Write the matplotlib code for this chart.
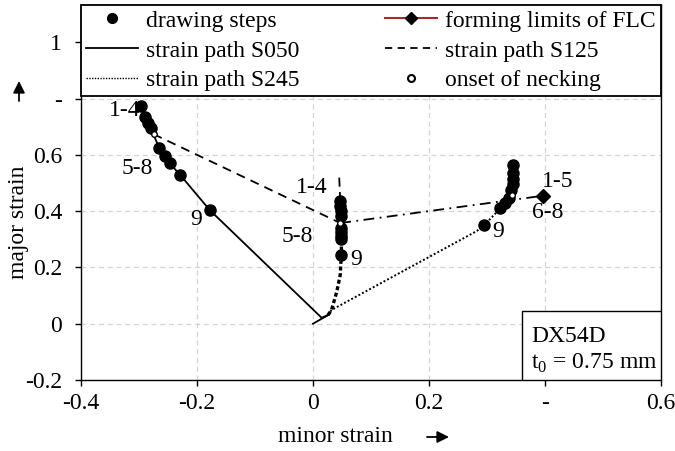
import numpy as np
import matplotlib
matplotlib.use('Agg')
import matplotlib.pyplot as plt
from matplotlib.lines import Line2D
from matplotlib.patches import Rectangle

plt.rcParams['font.family'] = ['Liberation Serif', 'DejaVu Sans']
plt.rcParams['mathtext.fontset'] = 'custom'
plt.rcParams['mathtext.rm'] = 'Liberation Serif'

##### data #####
# strain path S050 (solid)
s050_minor = [0.0, 0.026, 0.015, -0.178, -0.229, -0.247, -0.256, -0.265, -0.280, -0.285, -0.290, -0.297]
s050_major = [0.0, 0.031, 0.021, 0.404, 0.529, 0.570, 0.597, 0.625, 0.695, 0.712, 0.735, 0.775]
# strain path S125 (dashed), lower part and upper part
s125_minor = [0.026, 0.032, 0.041, 0.047, 0.048, 0.049, 0.049, 0.048, 0.047]
s125_major = [0.031, 0.049, 0.114, 0.174, 0.215, 0.245, 0.300, 0.360, 0.436]
s125_top_minor = [0.047, 0.045]
s125_top_major = [0.436, 0.531]
# strain path S245 (dotted)
s245_minor = [0.026, 0.032, 0.282, 0.295, 0.323, 0.331, 0.338, 0.342, 0.344, 0.345, 0.345, 0.344]
s245_major = [0.031, 0.049, 0.329, 0.350, 0.410, 0.428, 0.448, 0.475, 0.496, 0.516, 0.537, 0.564]

# drawing steps 1-9 for each path
steps_s050_minor = [-0.297, -0.290, -0.285, -0.280, -0.265, -0.256, -0.247, -0.229, -0.178]
steps_s050_major = [0.775, 0.735, 0.712, 0.695, 0.625, 0.597, 0.570, 0.529, 0.404]
steps_s125_minor = [0.047, 0.047, 0.048, 0.048, 0.048, 0.049, 0.049, 0.049, 0.049]
steps_s125_major = [0.436, 0.418, 0.400, 0.382, 0.340, 0.326, 0.312, 0.300, 0.245]
steps_s245_minor = [0.344, 0.345, 0.345, 0.344, 0.342, 0.338, 0.331, 0.323, 0.295]
steps_s245_major = [0.564, 0.537, 0.516, 0.496, 0.475, 0.448, 0.428, 0.410, 0.350]

# onset of necking
onset_minor = [-0.275, 0.047, 0.343]
onset_major = [0.674, 0.358, 0.459]

# forming limit curve
flc_minor = [-0.275, 0.047, 0.397]
flc_major = [0.674, 0.358, 0.455]

# step labels
step_labels = ['1-4', '5-8', '9', '1-4', '5-8', '9', '9', '1-5', '6-8']
step_label_x = [-0.324, -0.303, -0.202, -0.003, -0.028, 0.074, 0.319, 0.421, 0.405]
step_label_y = [0.757, 0.552, 0.371, 0.483, 0.311, 0.228, 0.329, 0.507, 0.396]

xticks = [-0.4, -0.2, 0, 0.2, 0.4, 0.6]
xticklabels = ['-0.4', '-0.2', '0', '0.2', '-', '0.6']
yticks = [-0.2, 0, 0.2, 0.4, 0.6, 0.8, 1.0]
yticklabels = ['-0.2', '0', '0.2', '0.4', '0.6', '-', '1']

##### plot #####
fs = 17
W, H = 675, 451
fig = plt.figure(figsize=(6.75, 4.51), dpi=100)
ax = fig.add_axes([81 / W, 1 - 380 / H, 580 / W, 375 / H])

ax.set_xlim(-0.4, 0.6)
ax.set_ylim(-0.2, 1.133)
ax.set_xticks(xticks)
ax.set_xticklabels(xticklabels)
ax.set_yticks(yticks)
ax.set_yticklabels(yticklabels)
ax.tick_params(axis='both', direction='out', length=4.5, width=1, labelsize=fs)
ax.tick_params(axis='x', pad=5)
ax.tick_params(axis='y', pad=9)
ax.grid(True, color='#d4d4d4', linestyle=(0, (4, 3)), linewidth=0.9)
ax.set_axisbelow(True)
for sp in ax.spines.values():
    sp.set_linewidth(1.0)

# strain paths
ax.plot(s050_minor, s050_major, color='black', lw=1.3, zorder=3)
ax.plot(s125_minor, s125_major, color='black', lw=2.4, ls=(0, (1.2, 0.8)), zorder=3)
ax.plot(s125_top_minor, s125_top_major, color='black', lw=1.3, ls=(0, (5, 3)), zorder=3)
ax.plot(s245_minor, s245_major, color='black', lw=1.4, ls=(0, (1, 1.1)), zorder=3)

# FLC (drawn in the chart as dashed / dash-dot segments)
ax.plot(flc_minor[:2], flc_major[:2], color='black', lw=1.3, ls=(0, (5, 3.5)), zorder=3)
ax.plot(flc_minor[1:], flc_major[1:], color='black', lw=1.3, ls=(0, (6, 3, 1, 3)), zorder=3)
ax.plot(flc_minor[-1:], flc_major[-1:], ls='none', marker='D', ms=7, color='black', zorder=4)

# drawing steps
for mx, my in [(steps_s050_minor, steps_s050_major),
               (steps_s125_minor, steps_s125_major),
               (steps_s245_minor, steps_s245_major)]:
    ax.plot(mx, my, ls='none', marker='o', ms=8, color='black', zorder=5)

# onset of necking
ax.plot(onset_minor, onset_major, ls='none', marker='o', ms=4, mfc='white',
        mec='black', mew=1.0, zorder=6)

for lab, tx, ty in zip(step_labels, step_label_x, step_label_y):
    ax.text(tx, ty, lab, fontsize=fs, ha='center', va='center', zorder=7)

# material box
ax.add_patch(Rectangle(((522 - 81) / 580, 0), 1 - (522 - 81) / 580, (380 - 311) / 375,
                       transform=ax.transAxes, facecolor='white', edgecolor='black',
                       lw=1.0, zorder=8))
ax.text((531 - 81) / 580, (380 - 342) / 375, 'DX54D', transform=ax.transAxes,
        fontsize=fs, va='baseline', ha='left', zorder=9)
ax.text((531 - 81) / 580, (380 - 369) / 375, r't$_\mathregular{0}$ = 0.75 mm',
        transform=ax.transAxes, fontsize=fs, va='baseline', ha='left', zorder=9)

# axis labels with arrows
fig.text(335 / W, 1 - 437 / H, 'minor strain', fontsize=fs, ha='center', va='center')
fig.text(19 / W, 1 - 222 / H, 'major strain', fontsize=fs, ha='center', va='center',
         rotation=90)
arrow = dict(arrowstyle='-|>,head_length=0.7,head_width=0.35', color='black', lw=1.3,
             shrinkA=0, shrinkB=0)
ax.annotate('', xy=(449 / W, 1 - 437 / H), xytext=(427 / W, 1 - 437 / H),
            xycoords='figure fraction', arrowprops=arrow, annotation_clip=False)
ax.annotate('', xy=(19 / W, 1 - 81 / H), xytext=(19 / W, 1 - 101 / H),
            xycoords='figure fraction', arrowprops=arrow, annotation_clip=False)

# legend
handles = [
    Line2D([], [], ls='none', marker='o', ms=7, color='black'),
    Line2D([], [], color='black', lw=1.3),
    Line2D([], [], color='black', lw=1.0, ls=(0, (1, 1))),
    Line2D([], [], color='#a52a2a', lw=1.5, marker='D', ms=6, mfc='black', mec='black'),
    Line2D([], [], color='black', lw=1.3, ls=(0, (4, 3))),
    Line2D([], [], ls='none', marker='o', ms=5, mfc='white', mec='black', mew=1.5),
]
labels = ['drawing steps', 'strain path S050', 'strain path S245',
          'forming limits of FLC', 'strain path S125', 'onset of necking']
leg = ax.legend(handles, labels, ncol=2, loc='upper left', bbox_to_anchor=(0, 1, 1, 0),
                mode='expand', borderaxespad=0, fontsize=fs, frameon=True, fancybox=False,
                handlelength=2.2, handletextpad=0.35, labelspacing=0.35, borderpad=0.22,
                columnspacing=1.0)
leg.get_frame().set_edgecolor('black')
leg.get_frame().set_linewidth(1.3)
leg.get_frame().set_alpha(None)
leg.get_frame().set_facecolor('white')
leg.set_zorder(10)

fig.savefig('out.png', dpi=100)
